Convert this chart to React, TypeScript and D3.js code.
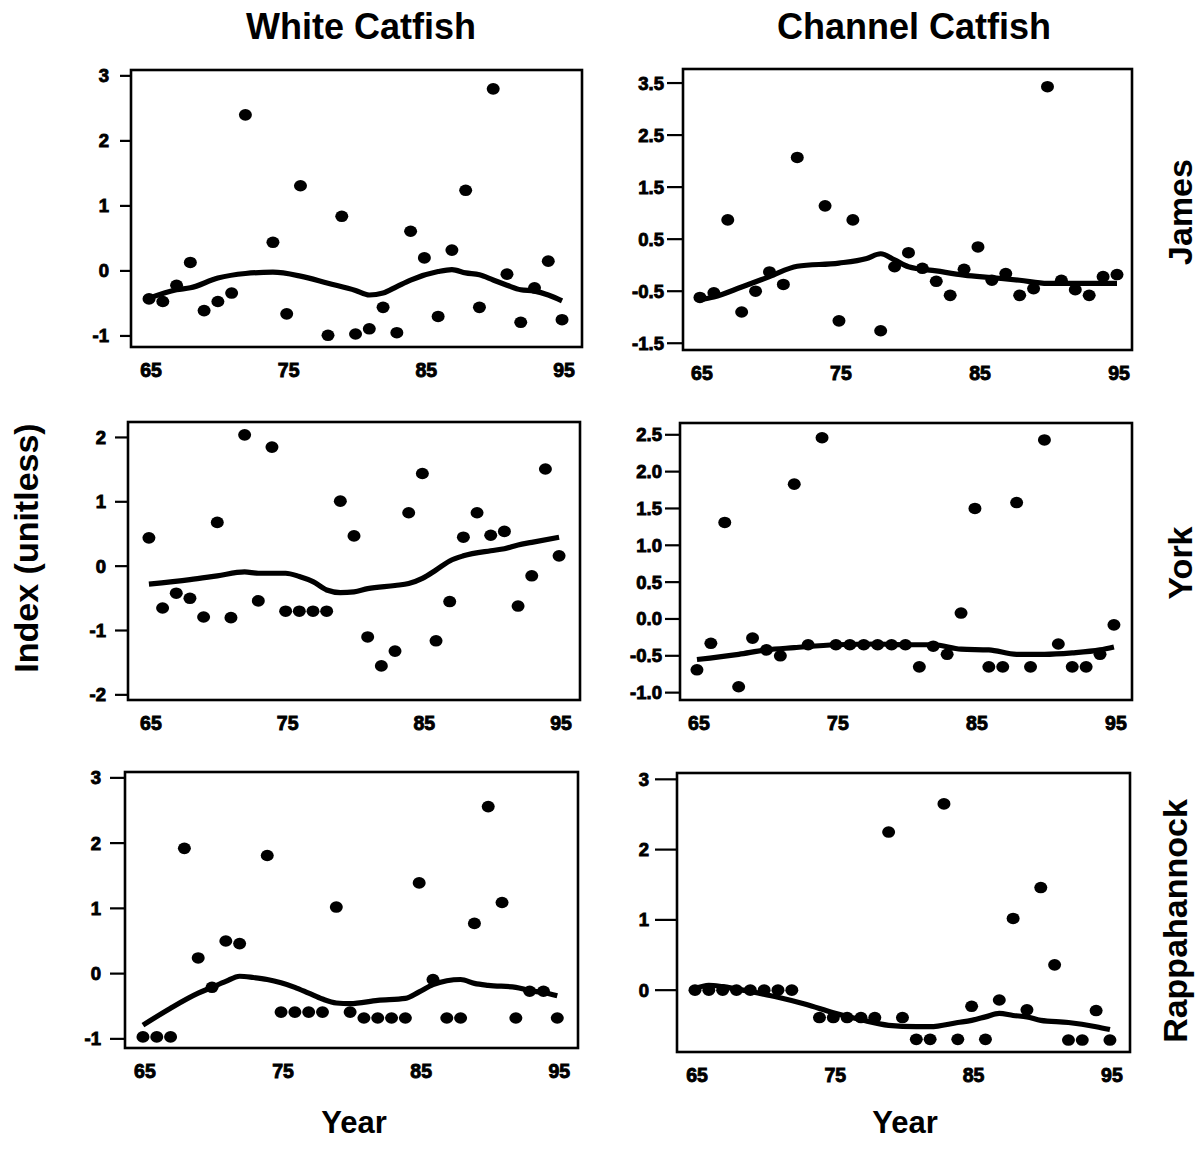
import React from "react";
import * as d3 from "d3";

// ---------- data ----------
const years = [65, 66, 67, 68, 69, 70, 71, 72, 73, 74, 75, 76, 77, 78, 79, 80, 81, 82, 83, 84, 85, 86, 87, 88, 89, 90, 91, 92, 93, 94, 95];
const xTicks = [65, 75, 85, 95];

const whiteJames = [-0.43, -0.47, -0.22, 0.13, -0.61, -0.47, -0.34, 2.40, null, 0.44, -0.66, 1.31, null, -0.99, 0.84, -0.97, -0.89, -0.56, -0.95, 0.61, 0.20, -0.70, 0.32, 1.24, -0.56, 2.80, -0.05, -0.79, -0.26, 0.15, -0.75];
const whiteJamesTrend: [number, number][] = [[65, -0.42], [67, -0.29], [68, -0.26], [70, -0.11], [72, -0.04], [74, -0.02], [76, -0.08], [78, -0.19], [80, -0.30], [81, -0.37], [82, -0.34], [83, -0.24], [84, -0.14], [86, -0.01], [87, 0.02], [88, -0.03], [89, -0.06], [90, -0.14], [91, -0.22], [92, -0.29], [93, -0.31], [94, -0.37], [95, -0.46]];

const channelJames = [-0.62, -0.53, 0.87, -0.90, -0.50, -0.13, -0.37, 2.07, null, 1.14, -1.07, 0.87, null, -1.26, -0.03, 0.24, -0.06, -0.31, -0.58, -0.08, 0.35, -0.29, -0.16, -0.58, -0.45, 3.43, -0.29, -0.47, -0.58, -0.22, -0.18];
const channelJamesTrend: [number, number][] = [[65, -0.66], [66, -0.61], [68, -0.42], [70, -0.22], [72, -0.02], [75, 0.04], [77, 0.13], [78, 0.22], [79, 0.10], [80, -0.03], [82, -0.11], [84, -0.19], [86, -0.24], [88, -0.29], [90, -0.35], [92, -0.35], [95, -0.35]];

const whiteYork = [0.44, -0.65, -0.42, -0.50, -0.79, 0.68, -0.80, 2.04, -0.54, 1.85, -0.70, -0.70, -0.70, -0.70, 1.01, 0.47, -1.10, -1.55, -1.32, 0.83, 1.44, -1.16, -0.55, 0.45, 0.83, 0.48, 0.54, -0.62, -0.15, 1.51, 0.16];
const whiteYorkTrend: [number, number][] = [[65, -0.28], [68, -0.21], [70, -0.15], [72, -0.09], [73, -0.11], [75, -0.11], [76, -0.16], [77, -0.24], [78, -0.37], [79, -0.41], [80, -0.40], [81, -0.35], [83, -0.30], [84, -0.27], [85, -0.19], [86, -0.06], [87, 0.08], [88, 0.16], [90, 0.24], [91, 0.27], [92, 0.33], [93, 0.37], [95, 0.45]];

const channelYork = [-0.69, -0.33, 1.31, -0.92, -0.26, -0.42, -0.50, 1.83, -0.35, 2.46, -0.35, -0.35, -0.35, -0.35, -0.35, -0.35, -0.65, -0.37, -0.48, 0.08, 1.50, -0.65, -0.65, 1.58, -0.65, 2.43, -0.34, -0.65, -0.65, -0.48, -0.08];
const channelYorkTrend: [number, number][] = [[65, -0.55], [68, -0.48], [70, -0.42], [72, -0.39], [75, -0.35], [78, -0.34], [80, -0.35], [82, -0.35], [84, -0.41], [86, -0.42], [88, -0.48], [90, -0.48], [92, -0.46], [94, -0.42], [95, -0.38]];

const whiteRapp = [-0.97, -0.97, -0.97, 1.92, 0.24, -0.21, 0.50, 0.46, null, 1.81, -0.59, -0.59, -0.59, -0.59, 1.02, -0.59, -0.68, -0.68, -0.68, -0.68, 1.39, -0.09, -0.68, -0.68, 0.77, 2.56, 1.09, -0.68, -0.27, -0.27, -0.68];
const whiteRappTrend: [number, number][] = [[65, -0.79], [67, -0.53], [69, -0.30], [70, -0.21], [71, -0.12], [72, -0.04], [73, -0.06], [74, -0.09], [75, -0.14], [76, -0.21], [77, -0.30], [78, -0.39], [79, -0.45], [80, -0.46], [82, -0.41], [84, -0.38], [85, -0.28], [86, -0.17], [87, -0.11], [88, -0.09], [89, -0.15], [90, -0.18], [92, -0.21], [93, -0.26], [94, -0.29], [95, -0.34]];

const channelRapp = [0, 0, 0, 0, 0, 0, 0, 0, null, -0.39, -0.39, -0.39, -0.39, -0.39, 2.25, -0.39, -0.70, -0.70, 2.65, -0.70, -0.23, -0.70, -0.14, 1.02, -0.28, 1.46, 0.36, -0.71, -0.71, -0.29, -0.71];
const channelRappTrend: [number, number][] = [[65, 0.02], [66, 0.07], [67, 0.05], [69, -0.02], [71, -0.10], [73, -0.20], [75, -0.32], [77, -0.42], [79, -0.50], [81, -0.52], [82, -0.52], [84, -0.46], [85, -0.43], [86, -0.38], [87, -0.33], [88, -0.36], [89, -0.38], [90, -0.43], [92, -0.46], [94, -0.52], [95, -0.56]];

const ticksInt3 = [-1, 0, 1, 2, 3];
const ticksJamesCh = [-1.5, -0.5, 0.5, 1.5, 2.5, 3.5];
const ticksInt2 = [-2, -1, 0, 1, 2];
const ticksYorkCh = [-1.0, -0.5, 0.0, 0.5, 1.0, 1.5, 2.0, 2.5];
const ticksRappCh = [0, 1, 2, 3];

const columnTitles = ["White Catfish", "Channel Catfish"];
const rowTitles = ["James", "York", "Rappahannock"];

// ---------- layout ----------
type Panel = {
  values: (number | null)[];
  trend: [number, number][];
  box: { l: number; t: number; r: number; b: number };
  xDomain: [number, number];
  yDomain: [number, number];
  yTicks: number[];
  decimals: number;
  tickLen: number;
  labelGap: number;
};

const panels: Panel[] = [
  { values: whiteJames, trend: whiteJamesTrend, box: { l: 131, t: 70, r: 582, b: 347 }, xDomain: [63.69, 96.45], yDomain: [-1.17, 3.09], yTicks: ticksInt3, decimals: 0, tickLen: 11, labelGap: 22 },
  { values: channelJames, trend: channelJamesTrend, box: { l: 683, t: 69, r: 1132, b: 350 }, xDomain: [63.78, 96.08], yDomain: [-1.63, 3.77], yTicks: ticksJamesCh, decimals: 1, tickLen: 16, labelGap: 19 },
  { values: whiteYork, trend: whiteYorkTrend, box: { l: 128, t: 422, r: 580, b: 700 }, xDomain: [63.47, 96.53], yDomain: [-2.08, 2.24], yTicks: ticksInt2, decimals: 0, tickLen: 13, labelGap: 22 },
  { values: channelYork, trend: channelYorkTrend, box: { l: 680, t: 423, r: 1132, b: 700 }, xDomain: [63.78, 96.3], yDomain: [-1.1, 2.66], yTicks: ticksYorkCh, decimals: 1, tickLen: 15, labelGap: 18 },
  { values: whiteRapp, trend: whiteRappTrend, box: { l: 125, t: 772, r: 578, b: 1048 }, xDomain: [63.7, 96.5], yDomain: [-1.14, 3.09], yTicks: ticksInt3, decimals: 0, tickLen: 15, labelGap: 24 },
  { values: channelRapp, trend: channelRappTrend, box: { l: 677, t: 773, r: 1130, b: 1052 }, xDomain: [63.7, 96.45], yDomain: [-0.88, 3.09], yTicks: ticksRappCh, decimals: 0, tickLen: 22, labelGap: 28 },
];

const FONT = "'Liberation Sans', Arial, Helvetica, sans-serif";

function fmt(v: number, d: number) {
  return v.toFixed(d).replace("−", "-");
}

function PanelView({ p }: { p: Panel }) {
  const x = d3.scaleLinear().domain(p.xDomain).range([p.box.l, p.box.r]);
  const y = d3.scaleLinear().domain(p.yDomain).range([p.box.b, p.box.t]);
  const line = d3
    .line<[number, number]>()
    .x((d) => x(d[0]))
    .y((d) => y(d[1]))
    .curve(d3.curveMonotoneX);
  return (
    <g>
      <rect x={p.box.l} y={p.box.t} width={p.box.r - p.box.l} height={p.box.b - p.box.t} fill="none" stroke="#000" strokeWidth={2.6} />
      {p.yTicks.map((t) => (
        <g key={t}>
          <line x1={p.box.l - p.tickLen} x2={p.box.l} y1={y(t)} y2={y(t)} stroke="#000" strokeWidth={2.2} />
          <text x={p.box.l - p.labelGap} y={y(t)} textAnchor="end" dominantBaseline="central" fontFamily={FONT} fontWeight="bold" fontSize={18.5} stroke="#000" strokeWidth={0.9}>
            {fmt(t, p.decimals)}
          </text>
        </g>
      ))}
      {xTicks.map((t) => (
        <text key={t} x={x(t) + 2} y={p.box.b + 30} textAnchor="middle" fontFamily={FONT} fontWeight="bold" fontSize={19.5} stroke="#000" strokeWidth={0.9}>
          {t}
        </text>
      ))}
      <path d={line(p.trend) || ""} fill="none" stroke="#000" strokeWidth={5.2} strokeLinejoin="round" strokeLinecap="butt" />
      {years.map((yr, i) => {
        const v = p.values[i];
        if (v === null || v === undefined) return null;
        return <ellipse key={yr} cx={x(yr)} cy={y(v)} rx={6.5} ry={5.8} fill="#000" />;
      })}
    </g>
  );
}

export default function App() {
  return (
    <svg width={1201} height={1153} viewBox="0 0 1201 1153" style={{ position: "absolute", left: 0, top: 0, display: "block", background: "#fff" }}>
      <rect x={0} y={0} width={1201} height={1153} fill="#fff" />
      <text x={361} y={39} textAnchor="middle" fontFamily={FONT} fontWeight="bold" fontSize={36}>{columnTitles[0]}</text>
      <text x={914} y={39} textAnchor="middle" fontFamily={FONT} fontWeight="bold" fontSize={36}>{columnTitles[1]}</text>
      <text transform="translate(38,548) rotate(-90)" textAnchor="middle" fontFamily={FONT} fontWeight="bold" fontSize={34}>Index (unitless)</text>
      <text transform="translate(1192,212) rotate(-90)" textAnchor="middle" fontFamily={FONT} fontWeight="bold" fontSize={34}>{rowTitles[0]}</text>
      <text transform="translate(1192,563) rotate(-90)" textAnchor="middle" fontFamily={FONT} fontWeight="bold" fontSize={34}>{rowTitles[1]}</text>
      <text transform="translate(1187,921) rotate(-90)" textAnchor="middle" fontFamily={FONT} fontWeight="bold" fontSize={34}>{rowTitles[2]}</text>
      <text x={354} y={1133} textAnchor="middle" fontFamily={FONT} fontWeight="bold" fontSize={31}>Year</text>
      <text x={905} y={1133} textAnchor="middle" fontFamily={FONT} fontWeight="bold" fontSize={31}>Year</text>
      {panels.map((p, i) => (
        <PanelView key={i} p={p} />
      ))}
    </svg>
  );
}
